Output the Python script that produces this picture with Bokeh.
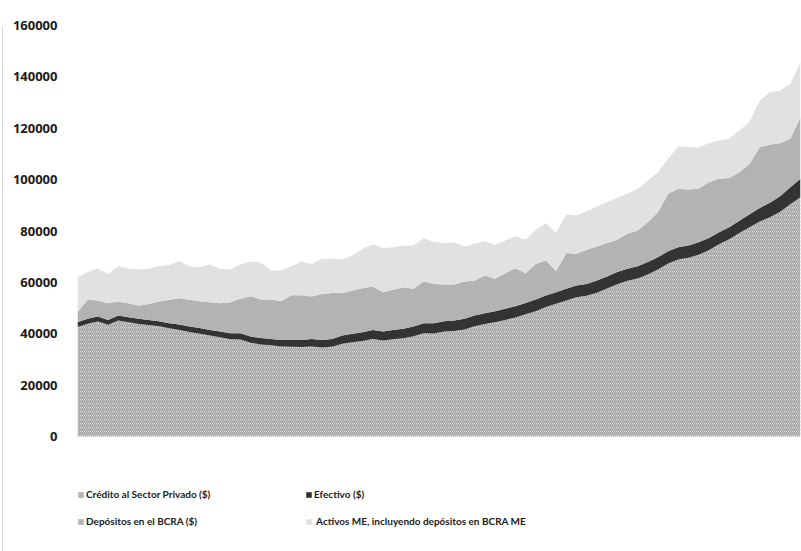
from bokeh.plotting import figure
from bokeh.models import (ColumnDataSource, Range1d, Legend, LegendItem, FixedTicker,
                          NumeralTickFormatter, LinearAxis)
from bokeh.transform import stack
from bokeh.embed import file_html
from bokeh.resources import INLINE

# Monthly periods (no labels shown on the x axis in the original)
periodo = list(range(72))

credito = [42600, 43900, 44800, 43500, 45200, 44500, 43800, 43400, 42900, 42100,
           41500, 40700, 40000, 39300, 38600, 37900, 37800, 36500, 35800, 35500,
           35000, 34900, 34800, 35000, 34600, 34900, 36100, 36700, 37200, 38000,
           37400, 37900, 38200, 39000, 40200, 40100, 40900, 41100, 41700, 42900,
           43800, 44500, 45400, 46300, 47600, 48800, 50400, 51700, 52900, 54200,
           54800, 56000, 57600, 59300, 60600, 61500, 63100, 65000, 67300, 68900,
           69600, 70800, 72500, 74800, 76800, 79200, 81500, 83700, 85400, 87500,
           90400, 93100]

efectivo = [1900, 1900, 1900, 1900, 1900, 1900, 2000, 2000, 2000, 2000,
            2100, 2100, 2200, 2200, 2300, 2300, 2400, 2400, 2500, 2500,
            2600, 2700, 2800, 3000, 3000, 3100, 3200, 3300, 3400, 3500,
            3500, 3600, 3700, 3800, 3900, 4000, 4000, 4100, 4100, 4200,
            4200, 4300, 4300, 4400, 4400, 4500, 4500, 4500, 4600, 4600,
            4600, 4700, 4700, 4700, 4700, 4800, 4800, 4800, 4800, 4800,
            4800, 4800, 4800, 4700, 4700, 4800, 5000, 5300, 5600, 6000,
            6600, 7200]

depositos = [3900, 7400, 6200, 6500, 5500, 5500, 5200, 6200, 7700, 9100,
             10200, 10400, 10500, 10800, 11000, 12100, 13400, 15700, 15000, 15300,
             15100, 17400, 17400, 16500, 17900, 17900, 16600, 16800, 17100, 16900,
             15300, 15600, 16200, 14700, 16200, 15300, 14300, 14000, 14500, 13600,
             14700, 12600, 13900, 14800, 11600, 13900, 13600, 8200, 13900, 12300,
             13300, 13300, 13000, 12600, 13600, 13900, 15500, 17500, 22400, 22700,
             21800, 20800, 21700, 20800, 19100, 18900, 19700, 23600, 22700, 20700,
             18900, 24000]

activos = [13600, 10800, 12400, 11400, 13700, 13400, 13900, 13700, 13700, 13600,
           14400, 13100, 13200, 14700, 13400, 12600, 13400, 13600, 14300, 11300,
           11900, 11300, 13100, 12700, 13700, 13300, 13000, 13700, 15400, 16300,
           17200, 16600, 16300, 16900, 17000, 16200, 16100, 16400, 13700, 14300,
           13300, 13200, 12700, 12500, 13000, 13300, 14500, 14900, 15000, 14900,
           15000, 15500, 15900, 16300, 15600, 16200, 16300, 15600, 13600, 16600,
           16400, 16200, 15200, 14900, 15300, 16200, 16200, 18200, 20300, 20500,
           21400, 21400]

series_labels = ["Crédito al Sector Privado ($)", "Efectivo ($)",
                 "Depósitos en el BCRA ($)", " Activos ME, incluyendo depósitos en BCRA ME"]
y_ticks = [0, 20000, 40000, 60000, 80000, 100000, 120000, 140000, 160000]

src = ColumnDataSource(dict(x=periodo, credito=credito, efectivo=efectivo,
                            depositos=depositos, activos=activos))

# The frame reaches down to the bottom of the page so the legend fits inside it;
# the value axis still runs 0..160000 between y=436 px and y=25 px.
y_start = -160000 * 115 / 411
p = figure(width=801, height=551, output_backend="svg", toolbar_location=None,
           x_range=Range1d(0, len(periodo) - 1), y_range=Range1d(y_start, 160000),
           min_border_left=77, min_border_right=1, min_border_top=25, min_border_bottom=0)
p.outline_line_color = None
p.background_fill_color = "white"
p.border_fill_color = "white"
p.grid.visible = False
p.xaxis.visible = False

yax = p.yaxis[0]
yax.ticker = FixedTicker(ticks=y_ticks)
yax.formatter = NumeralTickFormatter(format="0")
yax.axis_line_color = None
yax.major_tick_line_color = None
yax.minor_tick_line_color = None
yax.major_tick_in = 0
yax.major_tick_out = 0
yax.major_label_standoff = 20
yax.major_label_text_font = "Open Sans"
yax.major_label_text_font_style = "bold"
yax.major_label_text_font_size = "13px"
yax.major_label_text_color = "#1a1a1a"
yax.axis_label = " "
yax.axis_label_standoff = 2
yax.axis_label_text_font_size = "2px"

# outer axis: only its line is shown, as the chart border on the left
edge = LinearAxis(ticker=FixedTicker(ticks=[]), axis_line_color="#d9d9d9",
                  major_tick_line_color=None, minor_tick_line_color=None,
                  major_tick_in=0, major_tick_out=0, major_label_standoff=0)
p.add_layout(edge, "left")

r1 = p.varea(x="x", y1=0, y2=stack("credito"), source=src,
             fill_color="white", hatch_pattern="\\", hatch_color="#a0a0a0",
             hatch_scale=4, hatch_weight=1.5)
r2 = p.varea(x="x", y1=stack("credito"), y2=stack("credito", "efectivo"), source=src,
             fill_color="#333333")
r3 = p.varea(x="x", y1=stack("credito", "efectivo"),
             y2=stack("credito", "efectivo", "depositos"), source=src,
             fill_color="#b3b3b3")
r4 = p.varea(x="x", y1=stack("credito", "efectivo", "depositos"),
             y2=stack("credito", "efectivo", "depositos", "activos"), source=src,
             fill_color="#e1e1e1")

# legend grid fills column by column: column 1 = Crédito, Depósitos; column 2 = Efectivo, Activos
legend = Legend(items=[LegendItem(label=series_labels[0], renderers=[r1]),
                       LegendItem(label=series_labels[2], renderers=[r3]),
                       LegendItem(label=series_labels[1], renderers=[r2]),
                       LegendItem(label=series_labels[3], renderers=[r4])],
                ncols=2, location=(0, 20),
                glyph_width=7, glyph_height=7, label_standoff=2, label_width=212,
                label_height=20, spacing=7, padding=0, margin=0,
                border_line_color=None, background_fill_alpha=0,
                label_text_font="Lato", label_text_font_style="bold",
                label_text_font_size="10px", label_text_color="#1a1a1a")
p.add_layout(legend, "center")

open("out.html", "w").write(file_html(p, INLINE))
